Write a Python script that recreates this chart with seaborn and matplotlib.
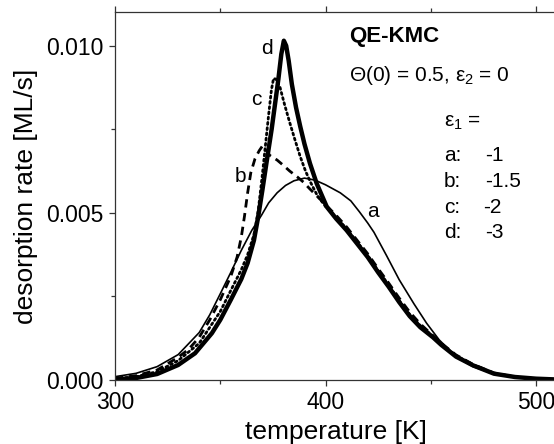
import numpy as np
import pandas as pd
import seaborn as sns
import matplotlib.pyplot as plt
from matplotlib.ticker import MultipleLocator

# curve a: eps1 = -1
temp_a = [300, 310, 320, 330, 340, 345, 350, 355, 360, 365, 369.5, 373, 377, 381, 385, 390, 395,
          400, 407, 412, 416, 420, 423, 429, 435, 442, 448, 454, 462, 470, 480, 490, 500, 512]
rate_a = [0.00010, 0.00020, 0.00040, 0.00076, 0.00142, 0.00195, 0.00258, 0.00322, 0.00388, 0.00448,
          0.00492, 0.00530, 0.00560, 0.00582, 0.00596, 0.00604, 0.00598, 0.00584, 0.00560, 0.00536,
          0.00504, 0.00470, 0.00442, 0.00372, 0.00300, 0.00228, 0.00170, 0.00120, 0.00070, 0.00040,
          0.00018, 0.00008, 0.00003, 0.00001]

# curve b: eps1 = -1.5
temp_b = [300, 310, 320, 330, 335, 340, 345, 350, 355, 358, 360, 361.5, 363, 364.5, 366.5, 368.5,
          370, 371.5, 373.5, 377, 380, 383, 386.5, 389.5, 392.5, 396, 400, 405, 410, 415, 420,
          425, 430, 435, 440, 445, 451, 455, 462, 470, 480, 490, 500, 512]
rate_b = [0.00005, 0.00013, 0.00030, 0.00068, 0.00092, 0.00128, 0.00180, 0.00240, 0.00310, 0.00368,
          0.00428, 0.00490, 0.00560, 0.00620, 0.00662, 0.00686, 0.00700, 0.00690, 0.00672, 0.00658,
          0.00642, 0.00625, 0.00608, 0.00592, 0.00572, 0.00550, 0.00524, 0.00493, 0.00458, 0.00418,
          0.00378, 0.00333, 0.00290, 0.00245, 0.00203, 0.00168, 0.00133, 0.00110, 0.00075, 0.00047,
          0.00021, 0.00009, 0.00004, 0.00001]

# curve c: eps1 = -2
temp_c = [300, 310, 320, 330, 340, 350, 355, 360, 363, 366, 368, 370, 371.5, 373, 374.3, 375.3,
          376.5, 378.4, 380.5, 383, 385.5, 388, 390.5, 393, 396, 400, 405, 410, 415, 420, 425,
          430, 435, 440, 445, 451, 455, 462, 470, 480, 490, 500, 512]
rate_c = [0.00004, 0.00010, 0.00025, 0.00058, 0.00110, 0.00205, 0.00268, 0.00330, 0.00375, 0.00435,
          0.00505, 0.00615, 0.00705, 0.00795, 0.00868, 0.00902, 0.00900, 0.00875, 0.00825, 0.00770,
          0.00718, 0.00668, 0.00625, 0.00590, 0.00553, 0.00519, 0.00487, 0.00452, 0.00413, 0.00373,
          0.00327, 0.00284, 0.00238, 0.00196, 0.00163, 0.00131, 0.00108, 0.00073, 0.00046, 0.00020,
          0.00009, 0.00004, 0.00001]

# curve d: eps1 = -3
temp_d = [300, 310, 320, 330, 338, 346, 350, 355, 360, 363, 366, 368, 370, 372, 374.4, 376,
          377.6, 379, 380.2, 381.3, 382.5, 384, 386, 388, 390, 392.6, 395.8, 400.6, 405, 410,
          415, 420, 425, 430, 435, 440, 445, 451, 455, 462, 470, 480, 490, 500, 512]
rate_d = [0.00002, 0.00006, 0.00018, 0.00045, 0.00080, 0.00140, 0.00180, 0.00240, 0.00302, 0.00350,
          0.00418, 0.00488, 0.00568, 0.00652, 0.00750, 0.00825, 0.00900, 0.00975, 0.01015, 0.01000,
          0.00955, 0.00885, 0.00815, 0.00758, 0.00706, 0.00648, 0.00588, 0.00518, 0.00483, 0.00448,
          0.00408, 0.00368, 0.00322, 0.00279, 0.00233, 0.00191, 0.00158, 0.00128, 0.00105, 0.00070,
          0.00044, 0.00019, 0.00009, 0.00004, 0.00001]

sns.set_theme(style="ticks")
plt.rcParams['font.family'] = ['Liberation Sans', 'DejaVu Sans']
plt.rcParams['mathtext.fontset'] = 'custom'
plt.rcParams['mathtext.rm'] = 'Liberation Sans'
plt.rcParams['mathtext.it'] = 'Liberation Sans'
plt.rcParams['text.color'] = 'black'
plt.rcParams['axes.labelcolor'] = 'black'
plt.rcParams['xtick.color'] = 'black'
plt.rcParams['ytick.color'] = 'black'

fig = plt.figure(figsize=(5.54, 4.44), dpi=100)
ax = fig.add_axes([0.2076, 0.1441, 0.798, 0.8282])

dfa = pd.DataFrame({"T": temp_a, "r": rate_a})
dfb = pd.DataFrame({"T": temp_b, "r": rate_b})
dfc = pd.DataFrame({"T": temp_c, "r": rate_c})
dfd = pd.DataFrame({"T": temp_d, "r": rate_d})

sns.lineplot(data=dfa, x="T", y="r", ax=ax, color="black", lw=1.2)
sns.lineplot(data=dfb, x="T", y="r", ax=ax, color="black", lw=2.0, ls=(0, (3, 2)))
sns.lineplot(data=dfc, x="T", y="r", ax=ax, color="black", lw=2.0, ls=(0, (0.7, 1.2)),
             dash_capstyle="round")
sns.lineplot(data=dfd, x="T", y="r", ax=ax, color="black", lw=3.2)

ax.set_xlim(300, 510)
ax.set_ylim(0, 0.011)
ax.xaxis.set_major_locator(MultipleLocator(100))
ax.xaxis.set_minor_locator(MultipleLocator(50))
ax.yaxis.set_major_locator(MultipleLocator(0.005))
ax.yaxis.set_minor_locator(MultipleLocator(0.0025))
ax.yaxis.set_major_formatter(plt.FormatStrFormatter('%.3f'))

for s in ax.spines.values():
    s.set_color("#333333")
    s.set_linewidth(0.9)
ax.tick_params(which="both", direction="out", color="#333333", width=0.9,
               labelsize=16.5, top=True, right=True, pad=4)
ax.tick_params(which="major", length=4)
ax.tick_params(which="minor", length=3)
ax.tick_params(axis="x", which="both", top=True, labeltop=False)

ax.set_xlabel("temperature [K]", fontsize=19, labelpad=4)
ax.set_ylabel("desorption rate [ML/s]", fontsize=19, labelpad=6)

ax.text(411.2, 0.01027, "QE-KMC", fontsize=16, fontweight="bold", ha="left", va="center")
ax.text(411.2, 0.00912, r"$\Theta$(0) = 0.5, $\varepsilon_2$ = 0", fontsize=15, ha="left", va="center")
ax.text(456.3, 0.00769, r"$\varepsilon_1$ =", fontsize=15, ha="left", va="center")
for lab, val, y, vx in [("a:", "-1", 0.00673, 476), ("b:", "-1.5", 0.00595, 476),
                        ("c:", "-2", 0.00515, 475), ("d:", "-3", 0.00440, 476)]:
    ax.text(456.3, y, lab, fontsize=15, ha="left", va="center")
    ax.text(vx, y, val, fontsize=15, ha="left", va="center")

ax.text(372.1, 0.00992, "d", fontsize=15, ha="center", va="center")
ax.text(367.3, 0.00838, "c", fontsize=15, ha="center", va="center")
ax.text(359.4, 0.00608, "b", fontsize=15, ha="center", va="center")
ax.text(422.7, 0.00503, "a", fontsize=15, ha="center", va="center")

fig.savefig("out.png", dpi=100)
